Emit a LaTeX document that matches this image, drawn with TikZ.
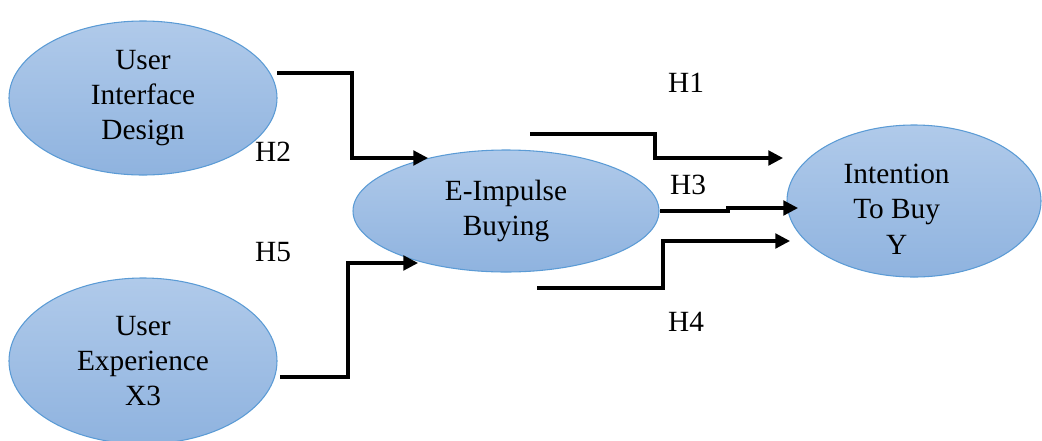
\documentclass[tikz,border=0pt]{standalone}
\usepackage{fontspec}
\setmainfont{Liberation Serif}
\usetikzlibrary{arrows.meta, shapes.geometric, positioning}
\definecolor{ellline}{HTML}{5B9BD5}
\definecolor{elltop}{HTML}{B0CAEA}
\definecolor{ellbot}{HTML}{8FB3DF}
\tikzset{
  construct/.style={ellipse, draw=ellline, line width=0.8pt, top color=elltop, bottom color=ellbot,
    inner sep=0pt, align=center, font=\fontsize{22}{26.5}\selectfont},
  hyp/.style={font=\fontsize{22}{26.5}\selectfont, inner sep=0pt},
  path/.style={line width=2.3pt, -{Triangle[length=11pt, width=11pt]}}
}

\begin{document}
\begin{tikzpicture}[x=0.75pt, y=-0.75pt]
  \useasboundingbox (0,0) rectangle (1042,440);
  % constructs
  \node[construct, minimum width=268*0.75pt, minimum height=154*0.75pt] (uid) at (143,98) {User\\Interface\\Design};
  \node[construct, minimum width=268*0.75pt, minimum height=166*0.75pt] (ux) at (143,361) {User\\Experience\\X3};
  \node[construct, minimum width=306*0.75pt, minimum height=122*0.75pt] (eib) at (506,211) {E-Impulse\\Buying};
  \node[construct, minimum width=254*0.75pt, minimum height=152*0.75pt,
    label={[hyp, align=center, xshift=-13pt, yshift=-6pt]center:Intention\\To Buy\\Y}] (itb) at (914,201) {};
  % free ends
  \coordinate (uidout) at (277,73);
  \coordinate (uxout) at (280,377);
  \coordinate (h1in) at (530,134);
  \coordinate (h3in) at (660,211);
  \coordinate (h4in) at (537,288);
  \coordinate (eibh2) at (428,158);
  \coordinate (eibh5) at (418,263);
  \coordinate (itbh1) at (783,158);
  \coordinate (itbh3) at (798,208);
  \coordinate (itbh4) at (790,241);
  % paths
  \draw[path] (uidout) -| (352,158) -- (eibh2);
  \draw[path] (uxout) -| (348,263) -- (eibh5);
  \draw[path] (h1in) -| (655,158) -- (itbh1);
  \draw[path] (h3in) -- (728,211) -- (728,208) -- (itbh3);
  \draw[path] (h4in) -| (663,241) -- (itbh4);
  % hypotheses
  \node[hyp] (h1) at (686,83) {H1};
  \node[hyp] (h2) at (273,152) {H2};
  \node[hyp] (h3) at (688,185) {H3};
  \node[hyp] (h4) at (686,322) {H4};
  \node[hyp] (h5) at (273,252) {H5};
\end{tikzpicture}
\end{document}
